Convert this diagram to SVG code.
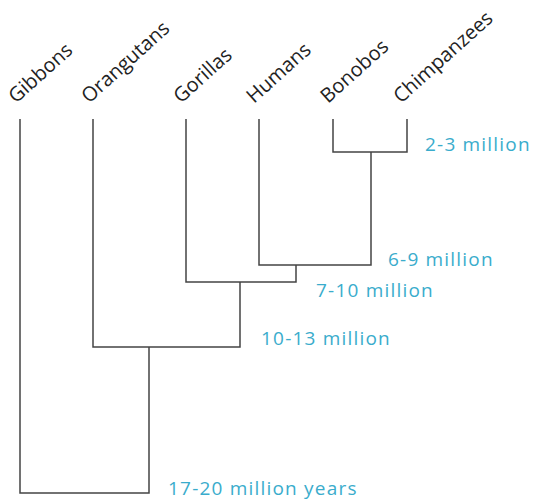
<svg xmlns="http://www.w3.org/2000/svg" width="534" height="500" viewBox="0 0 534 500">
<style>
.tx{font-family:"Open Sans","Liberation Sans",sans-serif;font-size:20px;fill:#222}
.lb{font-family:"Open Sans","Liberation Sans",sans-serif;font-size:19px;letter-spacing:1.2px;fill:#3aaccc}
.ln{fill:none;stroke:#444;stroke-width:1.5}
</style>
<rect width="534" height="500" fill="#fff"/>
<g id="connectors">
<path class="ln" d="M333,119V152H407V119"/>
<path class="ln" d="M371,152V265H259V119"/>
<path class="ln" d="M296,265V282H186V119"/>
<path class="ln" d="M240,282V347H93V119"/>
<path class="ln" d="M149,347V493H20V119"/>
</g>
<g id="gibbons"><text class="tx" transform="translate(16,104) rotate(-42)">Gibbons</text></g>
<g id="orangutans"><text class="tx" transform="translate(89,104) rotate(-42)">Orangutans</text></g>
<g id="gorillas"><text class="tx" transform="translate(181,104) rotate(-42)">Gorillas</text></g>
<g id="humans"><text class="tx" transform="translate(254,104) rotate(-42)">Humans</text></g>
<g id="bonobos"><text class="tx" transform="translate(328,104) rotate(-42)">Bonobos</text></g>
<g id="chimpanzees"><text class="tx" transform="translate(401,104) rotate(-42)">Chimpanzees</text></g>
<g id="labels">
<text class="lb" x="425" y="151">2-3 million</text>
<text class="lb" x="388" y="266">6-9 million</text>
<text class="lb" x="316" y="297">7-10 million</text>
<text class="lb" x="261" y="345">10-13 million</text>
<text class="lb" x="168" y="495">17-20 million years</text>
</g>
</svg>
